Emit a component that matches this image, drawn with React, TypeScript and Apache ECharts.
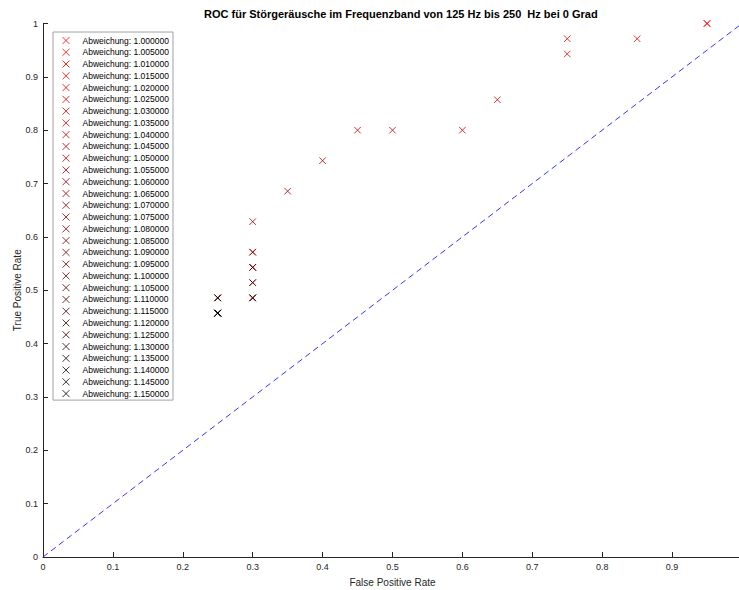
import React, { useEffect, useRef } from "react";
import * as echarts from "echarts";

const thresholds = [
  1.0, 1.005, 1.01, 1.015, 1.02, 1.025, 1.03, 1.035, 1.04, 1.045, 1.05, 1.055, 1.06, 1.065, 1.07, 1.075,
  1.08, 1.085, 1.09, 1.095, 1.1, 1.105, 1.11, 1.115, 1.12, 1.125, 1.13, 1.135, 1.14, 1.145, 1.15,
];
const fpr = [
  0.95, 0.95, 0.85, 0.75, 0.75, 0.65, 0.6, 0.5, 0.45, 0.4, 0.35, 0.3, 0.3, 0.3, 0.3, 0.3,
  0.3, 0.3, 0.3, 0.3, 0.3, 0.3, 0.25, 0.25, 0.25, 0.25, 0.25, 0.25, 0.25, 0.25, 0.25,
];
const tpr = [
  1.0, 1.0, 0.9714, 0.9714, 0.9429, 0.8571, 0.8, 0.8, 0.8, 0.7429, 0.6857, 0.6286, 0.5714, 0.5714, 0.5429, 0.5429,
  0.5429, 0.5143, 0.5143, 0.4857, 0.4857, 0.4857, 0.4857, 0.4857, 0.4857, 0.4571, 0.4571, 0.4571, 0.4571, 0.4571, 0.4571,
];
const diagonal = [
  [0, 0],
  [1, 1],
];

const FONT = "'Liberation Sans', Arial, Helvetica, sans-serif";
const AXIS = "#262626";
const XMARK = "path://M0,0L10,10M10,0L0,10";

export default function App() {
  const ref = useRef<HTMLDivElement>(null);
  useEffect(() => {
    if (!ref.current) return;
    const chart = echarts.init(ref.current, undefined, { renderer: "svg" });
    const n = thresholds.length;
    const names = thresholds.map((t) => "Abweichung: " + t.toFixed(6));
    const scatter = thresholds.map((t, i) => {
      const r = Math.round(255 * (1 - i / (n - 1)));
      const c = `rgb(${r},0,0)`;
      return {
        type: "scatter",
        name: names[i],
        symbol: XMARK,
        symbolSize: 6.5,
        symbolKeepAspect: true,
        itemStyle: { color: c, borderColor: c, borderWidth: 1, opacity: 0.8 },
        data: [[fpr[i], tpr[i]]],
        z: 3,
      };
    });
    const tickFmt = (v: number) => (v >= 0.999 ? "1" : String(Math.round(v * 10) / 10));
    chart.setOption({
      animation: false,
      backgroundColor: "#ffffff",
      title: {
        text: "ROC für Störgeräusche im Frequenzband von 125 Hz bis 250  Hz bei 0 Grad",
        left: 199,
        top: 3,
        textStyle: { fontFamily: FONT, fontSize: 11, fontWeight: "bold", color: "#000" },
      },
      legend: {
        data: names,
        orient: "vertical",
        left: 53,
        top: 32,
        padding: [4, 4, 2, 9],
        itemWidth: 23,
        itemHeight: 7,
        itemGap: 2.77,
        backgroundColor: "#ffffff",
        borderColor: "#a0a0a0",
        borderWidth: 1,
        borderRadius: 0,
        itemStyle: { borderWidth: 1 },
        textStyle: { fontFamily: FONT, fontSize: 8.5, color: "#000", lineHeight: 7 },
        selectedMode: false,
      },
      grid: { left: 43, top: 23.5, width: 699, height: 533.5, outerBoundsMode: "none", containLabel: false },
      xAxis: {
        type: "value",
        min: 0,
        max: 1,
        interval: 0.1,
        name: "False Positive Rate",
        nameLocation: "middle",
        nameGap: 20,
        nameMoveOverlap: false,
        nameTextStyle: { fontFamily: FONT, fontSize: 10, color: AXIS },
        axisLine: { lineStyle: { color: AXIS, width: 1 } },
        axisTick: { inside: true, length: 5, lineStyle: { color: AXIS } },
        axisLabel: {
          fontFamily: FONT,
          fontSize: 9,
          color: AXIS,
          margin: 5,
          showMaxLabel: false,
          formatter: tickFmt,
        },
        splitLine: { show: false },
      },
      yAxis: {
        type: "value",
        min: 0,
        max: 1,
        interval: 0.1,
        name: "True Positive Rate",
        nameLocation: "middle",
        nameGap: 21,
        nameMoveOverlap: false,
        nameRotate: 90,
        nameTextStyle: { fontFamily: FONT, fontSize: 10, color: AXIS },
        axisLine: { show: true, lineStyle: { color: AXIS, width: 1 } },
        axisTick: { show: true, inside: true, length: 5, lineStyle: { color: AXIS } },
        axisLabel: {
          fontFamily: FONT,
          fontSize: 9,
          color: AXIS,
          margin: 5,
          formatter: tickFmt,
        },
        splitLine: { show: false },
      },
      series: [
        {
          type: "line",
          name: "diag",
          data: diagonal,
          symbol: "none",
          silent: true,
          lineStyle: { color: "#0000ff", width: 1, type: [6, 4], opacity: 0.8 },
          z: 2,
        },
        ...scatter,
      ],
    });
    return () => chart.dispose();
  }, []);
  return (
    <div
      ref={ref}
      style={{ position: "fixed", left: 0, top: 0, width: 760, height: 590, background: "#fff" }}
    />
  );
}
